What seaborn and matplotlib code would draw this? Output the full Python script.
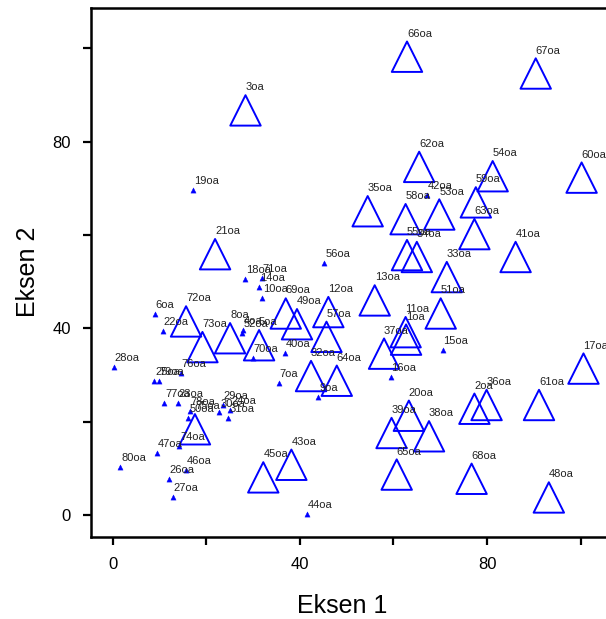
import numpy as np
import pandas as pd
import matplotlib
matplotlib.use("Agg")
import matplotlib.pyplot as plt
import seaborn as sns

# 01- Data
big_ids = [66, 67, 3, 62, 54, 60, 59, 35, 58, 53, 63, 21, 55, 34, 41, 33, 13, 51,
           12, 69, 72, 49, 11, 57, 1, 8, 5, 73, 37, 17, 32, 64, 61, 36, 2, 20,
           75, 39, 38, 43, 65, 45, 68, 48]
big_x = [62.9, 90.4, 28.4, 65.5, 81.2, 100.2, 77.6, 54.5, 62.6, 69.8, 77.3, 21.9,
         62.9, 65.0, 86.1, 71.4, 56.0, 70.1, 46.1, 37.0, 15.7, 39.4, 62.6, 45.7,
         62.7, 25.1, 31.3, 19.2, 58.0, 100.6, 42.4, 47.9, 91.1, 79.9, 77.3, 63.3,
         17.6, 59.6, 67.6, 38.2, 60.7, 32.2, 76.7, 93.2]
big_y = [98.2, 94.6, 86.7, 74.6, 72.6, 72.3, 67.0, 65.1, 63.4, 64.4, 60.2, 55.9,
         55.7, 55.3, 55.3, 51.0, 46.0, 43.2, 43.5, 43.2, 41.5, 40.9, 39.2, 38.2,
         37.6, 37.9, 36.4, 36.0, 34.6, 31.4, 29.8, 28.8, 23.6, 23.6, 22.8, 21.3,
         18.4, 17.6, 16.9, 10.8, 8.7, 8.1, 7.8, 3.8]

small_ids = [19, 42, 56, 18, 71, 14, 10, 6, 22, 4, 52, 15, 40, 70, 28, 76, 16, 7,
             25, 79, 9, 77, 23, 29, 24, 78, 30, 31, 50, 74, 47, 80, 46, 26, 27, 44]
small_x = [17.2, 67.2, 45.2, 28.3, 31.9, 31.3, 31.9, 9.0, 10.7, 27.9, 27.7, 70.5,
           36.8, 29.9, 0.3, 14.6, 59.4, 35.5, 8.9, 9.9, 43.9, 11.0, 13.9, 23.5,
           25.1, 16.5, 22.8, 24.7, 16.2, 14.2, 9.4, 1.6, 15.6, 12.0, 12.9, 41.5]
small_y = [69.7, 68.6, 54.0, 50.6, 50.9, 48.9, 46.5, 43.1, 39.5, 39.6, 39.0, 35.4,
           34.7, 33.6, 31.7, 30.4, 29.5, 28.3, 28.8, 28.8, 25.3, 24.1, 24.1, 23.6,
           22.6, 22.4, 22.0, 20.9, 20.9, 14.9, 13.4, 10.4, 9.7, 7.8, 3.9, 0.3]

big = pd.DataFrame({"id": big_ids, "x": big_x, "y": big_y})
small = pd.DataFrame({"id": small_ids, "x": small_x, "y": small_y})

# 02- Style
sns.set_style("ticks")
plt.rcParams["font.family"] = ["Liberation Sans", "DejaVu Sans"]
plt.rcParams["text.color"] = "black"
plt.rcParams["axes.labelcolor"] = "black"
plt.rcParams["xtick.color"] = "black"
plt.rcParams["ytick.color"] = "black"

fig = plt.figure(figsize=(6.06, 6.19), dpi=100)
ax = fig.add_axes([0.1502, 0.1330, 0.8752, 0.8546])

# 03- Points
sns.scatterplot(data=big, x="x", y="y", marker="^", s=480, facecolors="none",
                edgecolor="#0000ff", linewidth=1.4, ax=ax, legend=False)
sns.scatterplot(data=small, x="x", y="y", marker="^", s=14, color="#0000ff",
                edgecolor="#0000ff", linewidth=0.3, ax=ax, legend=False)

for i, x, y in zip(big_ids, big_x, big_y):
    ax.annotate(f"{i}oa", (x, y), xytext=(0, 14.4), textcoords="offset points",
                fontsize=8, color="#222222", ha="left", va="baseline",
                clip_on=False)
for i, x, y in zip(small_ids, small_x, small_y):
    ax.annotate(f"{i}oa", (x, y), xytext=(0.7, 4.3), textcoords="offset points",
                fontsize=8, color="#222222", ha="left", va="baseline",
                clip_on=False)

# 04- Axes
ax.set_xlim(-4.6, 108.7)
ax.set_ylim(-4.6, 108.7)
ax.set_xticks([0, 40, 80])
ax.set_yticks([0, 40, 80])
ax.set_xticks([20, 60, 100], minor=True)
ax.set_yticks([20, 60, 100], minor=True)
ax.tick_params(which="both", length=5.5, width=1.6, color="black",
               labelcolor="black", labelsize=12, pad=9)
for sp in ax.spines.values():
    sp.set_linewidth(1.8)
    sp.set_color("black")

ax.set_xlabel("Eksen 1", fontsize=18)
ax.set_ylabel("Eksen 2", fontsize=18)
ax.xaxis.set_label_coords((342 - 91) / (0.8752 * 606), -0.108)
ax.yaxis.set_label_coords(-0.096, 0.5)

plt.savefig("out.png", dpi=100)
